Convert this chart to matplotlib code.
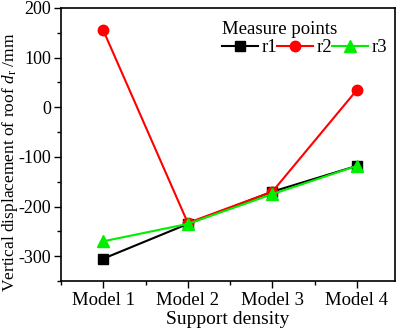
import matplotlib
matplotlib.use('Agg')
import matplotlib.pyplot as plt
from matplotlib.ticker import MultipleLocator
import numpy as np

models = ['Model 1', 'Model 2', 'Model 3', 'Model 4']
r1 = [-305, -235, -170, -118]
r2 = [155, -233, -170, 35]
r3 = [-270, -235, -175, -118]

plt.rcParams['font.family'] = ['Liberation Serif', 'DejaVu Serif']
plt.rcParams['mathtext.fontset'] = 'custom'
plt.rcParams['mathtext.rm'] = 'Liberation Serif'
plt.rcParams['mathtext.it'] = 'Liberation Serif:italic'
plt.rcParams['axes.unicode_minus'] = False

fig = plt.figure(figsize=(4.01, 3.29), dpi=100)
ax = fig.add_axes([61/401, 1-281/329, (395-61)/401, (281-8)/329])

x = np.arange(1, len(models)+1)
ax.plot(x, r1, color='black', marker='s', markersize=7, linewidth=1.5, label='r1')
ax.plot(x, r2, color='red', marker='o', markersize=7.5, linewidth=1.5, label='r2')
ax.plot(x, r3, color='#00ee00', marker='^', markersize=8, linewidth=1.5, label='r3')

ax.set_xlim(0.5, 4.45)
ax.set_ylim(-350, 200)
ax.set_xticks(x)
ax.set_xticklabels(models)
ax.xaxis.set_minor_locator(MultipleLocator(0.5))
ax.yaxis.set_major_locator(MultipleLocator(100))
ax.yaxis.set_minor_locator(MultipleLocator(50))
ax.tick_params(which='major', length=5, width=1, labelsize=13.5, pad=3)
ax.tick_params(axis='y', which='major', pad=2, labelsize=13)
ax.tick_params(which='minor', length=3, width=1)
ax.tick_params(axis='x', which='minor', bottom=True)
for s in ax.spines.values():
    s.set_linewidth(1.2)

ax.set_xlabel('Support density', fontsize=14)
ax.xaxis.set_label_coords(0.5, -0.11)
ax.set_ylabel(r'Vertical displacement of roof $d_\mathrm{r}$ /mm', fontsize=12.5)
ax.yaxis.set_label_coords(-0.124, 0.436)

leg = ax.legend(title='Measure points', ncol=3, loc='upper right', frameon=False,
                fontsize=13.5, title_fontsize=13.5, handlelength=1.9, handletextpad=0.2,
                columnspacing=0.0, labelspacing=0.05, borderaxespad=0.3,
                bbox_to_anchor=(1.015, 1.0))
leg._legend_box.align = 'left'

plt.savefig('out.png', dpi=100)
